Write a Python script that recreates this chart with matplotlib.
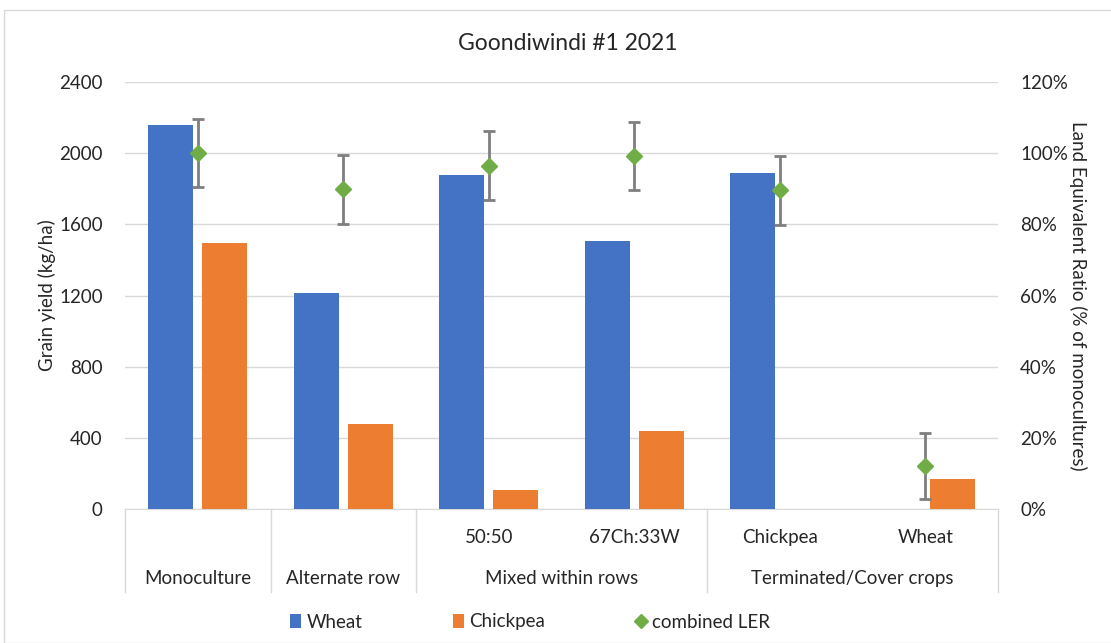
import matplotlib
matplotlib.use("Agg")
import matplotlib.pyplot as plt
from matplotlib.patches import Rectangle
import numpy as np

# data
sub_labels = ["", "", "50:50", "67Ch:33W", "Chickpea", "Wheat"]
group_labels = ["Monoculture", "Alternate row", "Mixed within rows", "Terminated/Cover crops"]
group_spans = [(0, 1), (1, 2), (2, 4), (4, 6)]
wheat = [2158, 1214, 1877, 1506, 1889, 0]
chickpea = [1495, 478, 107, 438, 0, 169]
ler = [100.0, 89.9, 96.4, 99.2, 89.6, 12.1]
ler_err = [9.6, 9.7, 9.7, 9.5, 9.7, 9.3]

plt.rcParams['font.family'] = ['Lato', 'DejaVu Sans']

blue = "#4472C4"
orange = "#ED7D31"
green = "#70AD47"
grid = "#d9d9d9"
txt = "#262626"
fs = 13.5

W, H = 1111, 643
fig = plt.figure(figsize=(W / 100, H / 100), dpi=100)
fig.patches.append(Rectangle((4 / W, 0), 1.2, 1 - 10 / H, transform=fig.transFigure,
                             fill=False, edgecolor=grid, linewidth=1))

x0, x1, ytop, ybot = 125, 998, 82, 509
ax = fig.add_axes([x0 / W, 1 - ybot / H, (x1 - x0) / W, (ybot - ytop) / H])
ax2 = ax.twinx()

x = np.arange(6) + 0.5
bw = 0.31
off = 0.186
ax.bar(x - off, wheat, bw, color=blue, label="Wheat", zorder=3)
ax.bar(x + off, chickpea, bw, color=orange, label="Chickpea", zorder=3)

ax.set_xlim(0, 6)
ax.set_ylim(0, 2400)
ax.set_yticks(np.arange(0, 2401, 400))
ax.set_xticks([])
ax.grid(axis="y", color=grid, linewidth=1, zorder=0)
for s in ["top", "left", "right"]:
    ax.spines[s].set_visible(False)
ax.spines["bottom"].set_color(grid)
ax.tick_params(axis="y", length=0, pad=16, labelsize=fs, labelcolor=txt)
ax.set_ylabel("Grain yield (kg/ha)", fontsize=fs, color=txt, labelpad=2)

ax2.errorbar(x, ler, yerr=ler_err, fmt="none", ecolor="#7f7f7f", elinewidth=2,
             capsize=4, capthick=2, zorder=4)
ax2.plot(x, ler, linestyle="none", marker="D", markersize=8.5, color=green,
         label="combined LER", zorder=5)
ax2.set_ylim(0, 120)
ax2.set_yticks(np.arange(0, 121, 20))
ax2.set_yticklabels([f"{v}%" for v in range(0, 121, 20)])
for s in ["top", "left", "right", "bottom"]:
    ax2.spines[s].set_visible(False)
ax2.tick_params(axis="y", length=0, pad=16, labelsize=fs, labelcolor=txt)
ax2.set_ylabel("Land Equivalent Ratio (% of monocultures)", fontsize=fs, color=txt,
               rotation=270, labelpad=14)

# two-level category axis
tr = ax.get_xaxis_transform()
line_bottom = -0.195
for b in [0, 1, 2, 4, 6]:
    ax.plot([b, b], [0, line_bottom], transform=tr, color=grid, linewidth=1, clip_on=False)
for xi, lab in zip(x, sub_labels):
    ax.text(xi, -0.066, lab, transform=tr, ha="center", va="center", fontsize=fs, color=txt)
for (a, b), lab in zip(group_spans, group_labels):
    ax.text((a + b) / 2, -0.162, lab, transform=tr, ha="center", va="center", fontsize=fs, color=txt)

fig.text(568 / W, 1 - 43 / H, "Goondiwindi #1 2021", ha="center", va="center",
         fontsize=16.5, color=txt)

h1, l1 = ax.get_legend_handles_labels()
h2, l2 = ax2.get_legend_handles_labels()
fig.legend(h1 + h2, l1 + l2, loc="center", bbox_to_anchor=(530 / W, 1 - 622 / H), ncol=3,
           frameon=False, fontsize=fs, columnspacing=4.8, handlelength=0.6, handletextpad=0.3,
           markerscale=0.8, labelcolor=txt)

fig.savefig("out.png", dpi=100)
